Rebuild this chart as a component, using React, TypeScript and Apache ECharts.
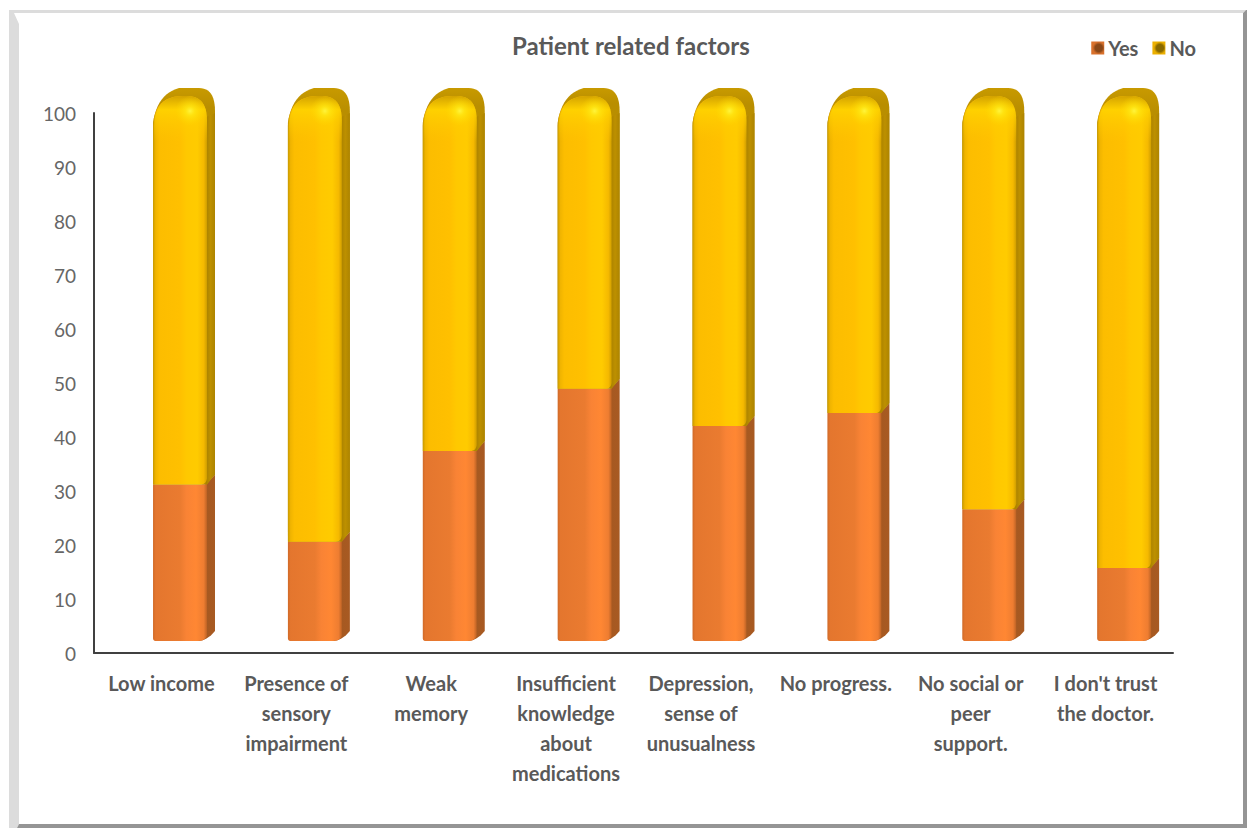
import React, { useEffect, useRef } from "react";
import * as echarts from "echarts";

const categories = [
  "Low income",
  "Presence of\nsensory\nimpairment",
  "Weak\nmemory",
  "Insufficient\nknowledge\nabout\nmedications",
  "Depression,\nsense of\nunusualness",
  "No progress.",
  "No social or\npeer\nsupport.",
  "I don't trust\nthe doctor.",
];
const yesValues = [29, 18.4, 35.2, 46.7, 39.8, 42.2, 24.4, 13.5];
const noValues = [71, 81.6, 64.8, 53.3, 60.2, 57.8, 75.6, 86.5];

const TEXT = "#595959";
const FONT = "Lato, 'Open Sans', sans-serif";

type Pt = number[];

// Quadratic corner sampled into polygon vertices.
function corner(a: Pt, c: Pt, b: Pt, n = 12): Pt[] {
  const out: Pt[] = [];
  for (let i = 0; i <= n; i++) {
    const t = i / n;
    const u = 1 - t;
    out.push([u * u * a[0] + 2 * u * t * c[0] + t * t * b[0], u * u * a[1] + 2 * u * t * c[1] + t * t * b[1]]);
  }
  return out;
}

function hGrad(stops: [number, string][]) {
  return new echarts.graphic.LinearGradient(0, 0, 1, 0, stops.map(([offset, color]) => ({ offset, color })));
}
function vGrad(stops: [number, string][]) {
  return new echarts.graphic.LinearGradient(0, 0, 0, 1, stops.map(([offset, color]) => ({ offset, color })));
}

const goldFront = hGrad([
  [0, "#c99a00"],
  [0.05, "#f0b400"],
  [0.12, "#fcbd00"],
  [0.5, "#ffc000"],
  [0.62, "#ffc800"],
  [0.82, "#ffcb00"],
  [0.94, "#f5b900"],
  [1, "#cf9e00"],
]);
const orangeFront = hGrad([
  [0, "#d06a28"],
  [0.05, "#e4762e"],
  [0.5, "#ea7b30"],
  [0.62, "#f98335"],
  [0.8, "#ff8733"],
  [0.94, "#ee7d31"],
  [1, "#bd6325"],
]);
const goldSide = hGrad([[0, "#a98100"], [0.5, "#bd9000"], [1, "#ad8400"]]);
const orangeSide = hGrad([[0, "#a45820"], [1, "#a85a22"]]);

// One stacked segment of a rounded 3D column: side wall, front face and, for the
// upper series, the domed cap with its specular spot.
function renderColumn(isTop: boolean) {
  return (_params: any, api: any) => {
    const i = api.value(0);
    const lift = 12;
    const depthX = 8;
    const depthY = 10;
    const cx = api.coord([i, 0])[0];
    const w = api.size([1, 0])[0] * 0.4;
    const l = cx - 8.4;
    const r = l + w;
    const yLow = api.coord([i, api.value(1)])[1] - lift;
    const yHigh = api.coord([i, api.value(2)])[1] - lift;
    const children: any[] = [];
    const poly = (points: Pt[], fill: any) => ({
      type: "polygon",
      shape: { points },
      style: { fill, stroke: null },
    });

    if (isTop) {
      const back = [
        ...corner([l, yHigh + 22], [l + 4, yHigh - 7], [l + 26, yHigh - 13]),
        ...corner([r - 8, yHigh - 13], [r + depthX, yHigh - 13], [r + depthX, yHigh + 10]),
        [r + depthX, yLow - depthY],
        [r, yLow],
        [l, yLow],
      ];
      children.push(poly(back, vGrad([[0, "#c89a00"], [0.05, "#b98e00"], [1, "#b28900"]])));
      children.push({
        type: "polygon",
        shape: { points: [[r - 1, yHigh + 16], [r + depthX, yHigh + 12], [r + depthX, yLow - depthY], [r - 1, yLow]] },
        style: { fill: goldSide, stroke: null },
      });
      const t = yHigh - 5;
      const front = [
        [l, yLow],
        ...corner([l, t + 30], [l + 1, t], [l + 30, t]),
        ...corner([r - 20, t], [r, t], [r, t + 24]),
        ...corner([r, yLow - 6], [r - 1, yLow], [r - 6, yLow]),
      ];
      children.push(poly(front, goldFront));
      children.push(
        poly(
          [
            ...corner([l + 1, t + 30], [l + 2, t], [l + 30, t]),
            ...corner([r - 20, t], [r, t], [r, t + 24]),
            [r, t + 46],
            [l + 1, t + 46],
          ],
          vGrad([[0, "rgba(208,160,0,0.95)"], [0.3, "rgba(255,212,0,0.85)"], [1, "rgba(255,200,0,0)"]])
        )
      );
      children.push({
        type: "circle",
        shape: { cx: l + 37, cy: yHigh + 10, r: 15 },
        style: {
          fill: new echarts.graphic.RadialGradient(0.5, 0.5, 0.5, [
            { offset: 0, color: "rgba(255,244,60,1)" },
            { offset: 0.3, color: "rgba(255,232,20,0.75)" },
            { offset: 1, color: "rgba(255,214,0,0)" },
          ]),
          stroke: null,
        },
      });
    } else {
      const side = [
        [r - 1, yHigh],
        [r + depthX, yHigh - depthY],
        ...corner([r + depthX, yLow - depthY], [r, yLow], [r - 10, yLow]),
      ];
      children.push(poly(side, orangeSide));
      const front = [
        [l, yHigh],
        ...corner([r - 6, yHigh], [r - 1, yHigh], [r, yHigh - 1]),
        ...corner([r, yLow - 5], [r - 2, yLow], [r - 10, yLow]),
        ...corner([l + 3, yLow], [l, yLow], [l, yLow - 3]),
      ];
      children.push(poly(front, orangeFront));
    }
    return { type: "group", children };
  };
}

function segments(values: number[], bases: number[]) {
  return values.map((v, i) => [i, bases[i], bases[i] + v]);
}

export default function App() {
  const ref = useRef<HTMLDivElement>(null);

  useEffect(() => {
    const chart = echarts.init(ref.current!, null, { renderer: "svg" });
    const legendIcon = (outer: string, inner: string) =>
      new echarts.graphic.RadialGradient(0.58, 0.5, 0.62, [
        { offset: 0, color: inner },
        { offset: 0.45, color: inner },
        { offset: 0.75, color: outer },
        { offset: 1, color: outer },
      ]);
    chart.setOption({
      animation: false,
      backgroundColor: "#ffffff",
      title: {
        text: "Patient related factors",
        left: 507,
        top: 28,
        textStyle: { color: TEXT, fontFamily: FONT, fontWeight: "bold", fontSize: 24 },
      },
      legend: {
        right: 46,
        top: 33,
        itemWidth: 13,
        itemHeight: 13,
        itemGap: 14,
        icon: "rect",
        textStyle: { color: TEXT, fontFamily: FONT, fontWeight: "bold", fontSize: 20, padding: [0, 0, 0, -1] },
        data: [
          { name: "Yes", itemStyle: { color: legendIcon("#d9712c", "#8a4818") } },
          { name: "No", itemStyle: { color: legendIcon("#ecb000", "#8a6a00") } },
        ],
      },
      grid: { left: 94, right: 74, top: 113, bottom: 175 },
      xAxis: {
        type: "category",
        data: categories,
        axisLine: { lineStyle: { color: "#404040", width: 2 } },
        axisTick: { show: false },
        axisLabel: {
          interval: 0,
          margin: 15,
          color: TEXT,
          fontFamily: FONT,
          fontWeight: "bold",
          fontSize: 20,
          lineHeight: 30,
          verticalAlign: "top",
        },
      },
      yAxis: {
        type: "value",
        min: 0,
        max: 100,
        interval: 10,
        splitLine: { show: false },
        axisTick: { show: false },
        axisLine: { show: true, lineStyle: { color: "#404040", width: 2 } },
        axisLabel: { margin: 18, color: "#666666", fontFamily: FONT, fontSize: 19 },
      },
      series: [
        {
          name: "Yes",
          type: "custom",
          renderItem: renderColumn(false),
          itemStyle: { color: "#d9712c" },
          encode: { x: 0, y: [1, 2] },
          data: segments(yesValues, yesValues.map(() => 0)),
          z: 2,
        },
        {
          name: "No",
          type: "custom",
          renderItem: renderColumn(true),
          itemStyle: { color: "#ecb000" },
          encode: { x: 0, y: [1, 2] },
          data: segments(noValues, yesValues),
          z: 3,
        },
      ],
      graphic: {
        elements: [
          { type: "polygon", silent: true, shape: { points: [[9, 10], [1246, 10], [1243, 13], [14, 13], [19, 24], [19, 824], [17, 828], [9, 828]] }, style: { fill: "#dcdcdc" } },
          { type: "polygon", silent: true, shape: { points: [[1246, 10], [1247, 10], [1247, 828], [17, 828], [19, 824], [1243, 824], [1243, 13]] }, style: { fill: "#959595" } },
        ],
      },
    });
    return () => chart.dispose();
  }, []);

  return <div ref={ref} style={{ position: "absolute", left: 0, top: 0, width: 1247, height: 828 }} />;
}
